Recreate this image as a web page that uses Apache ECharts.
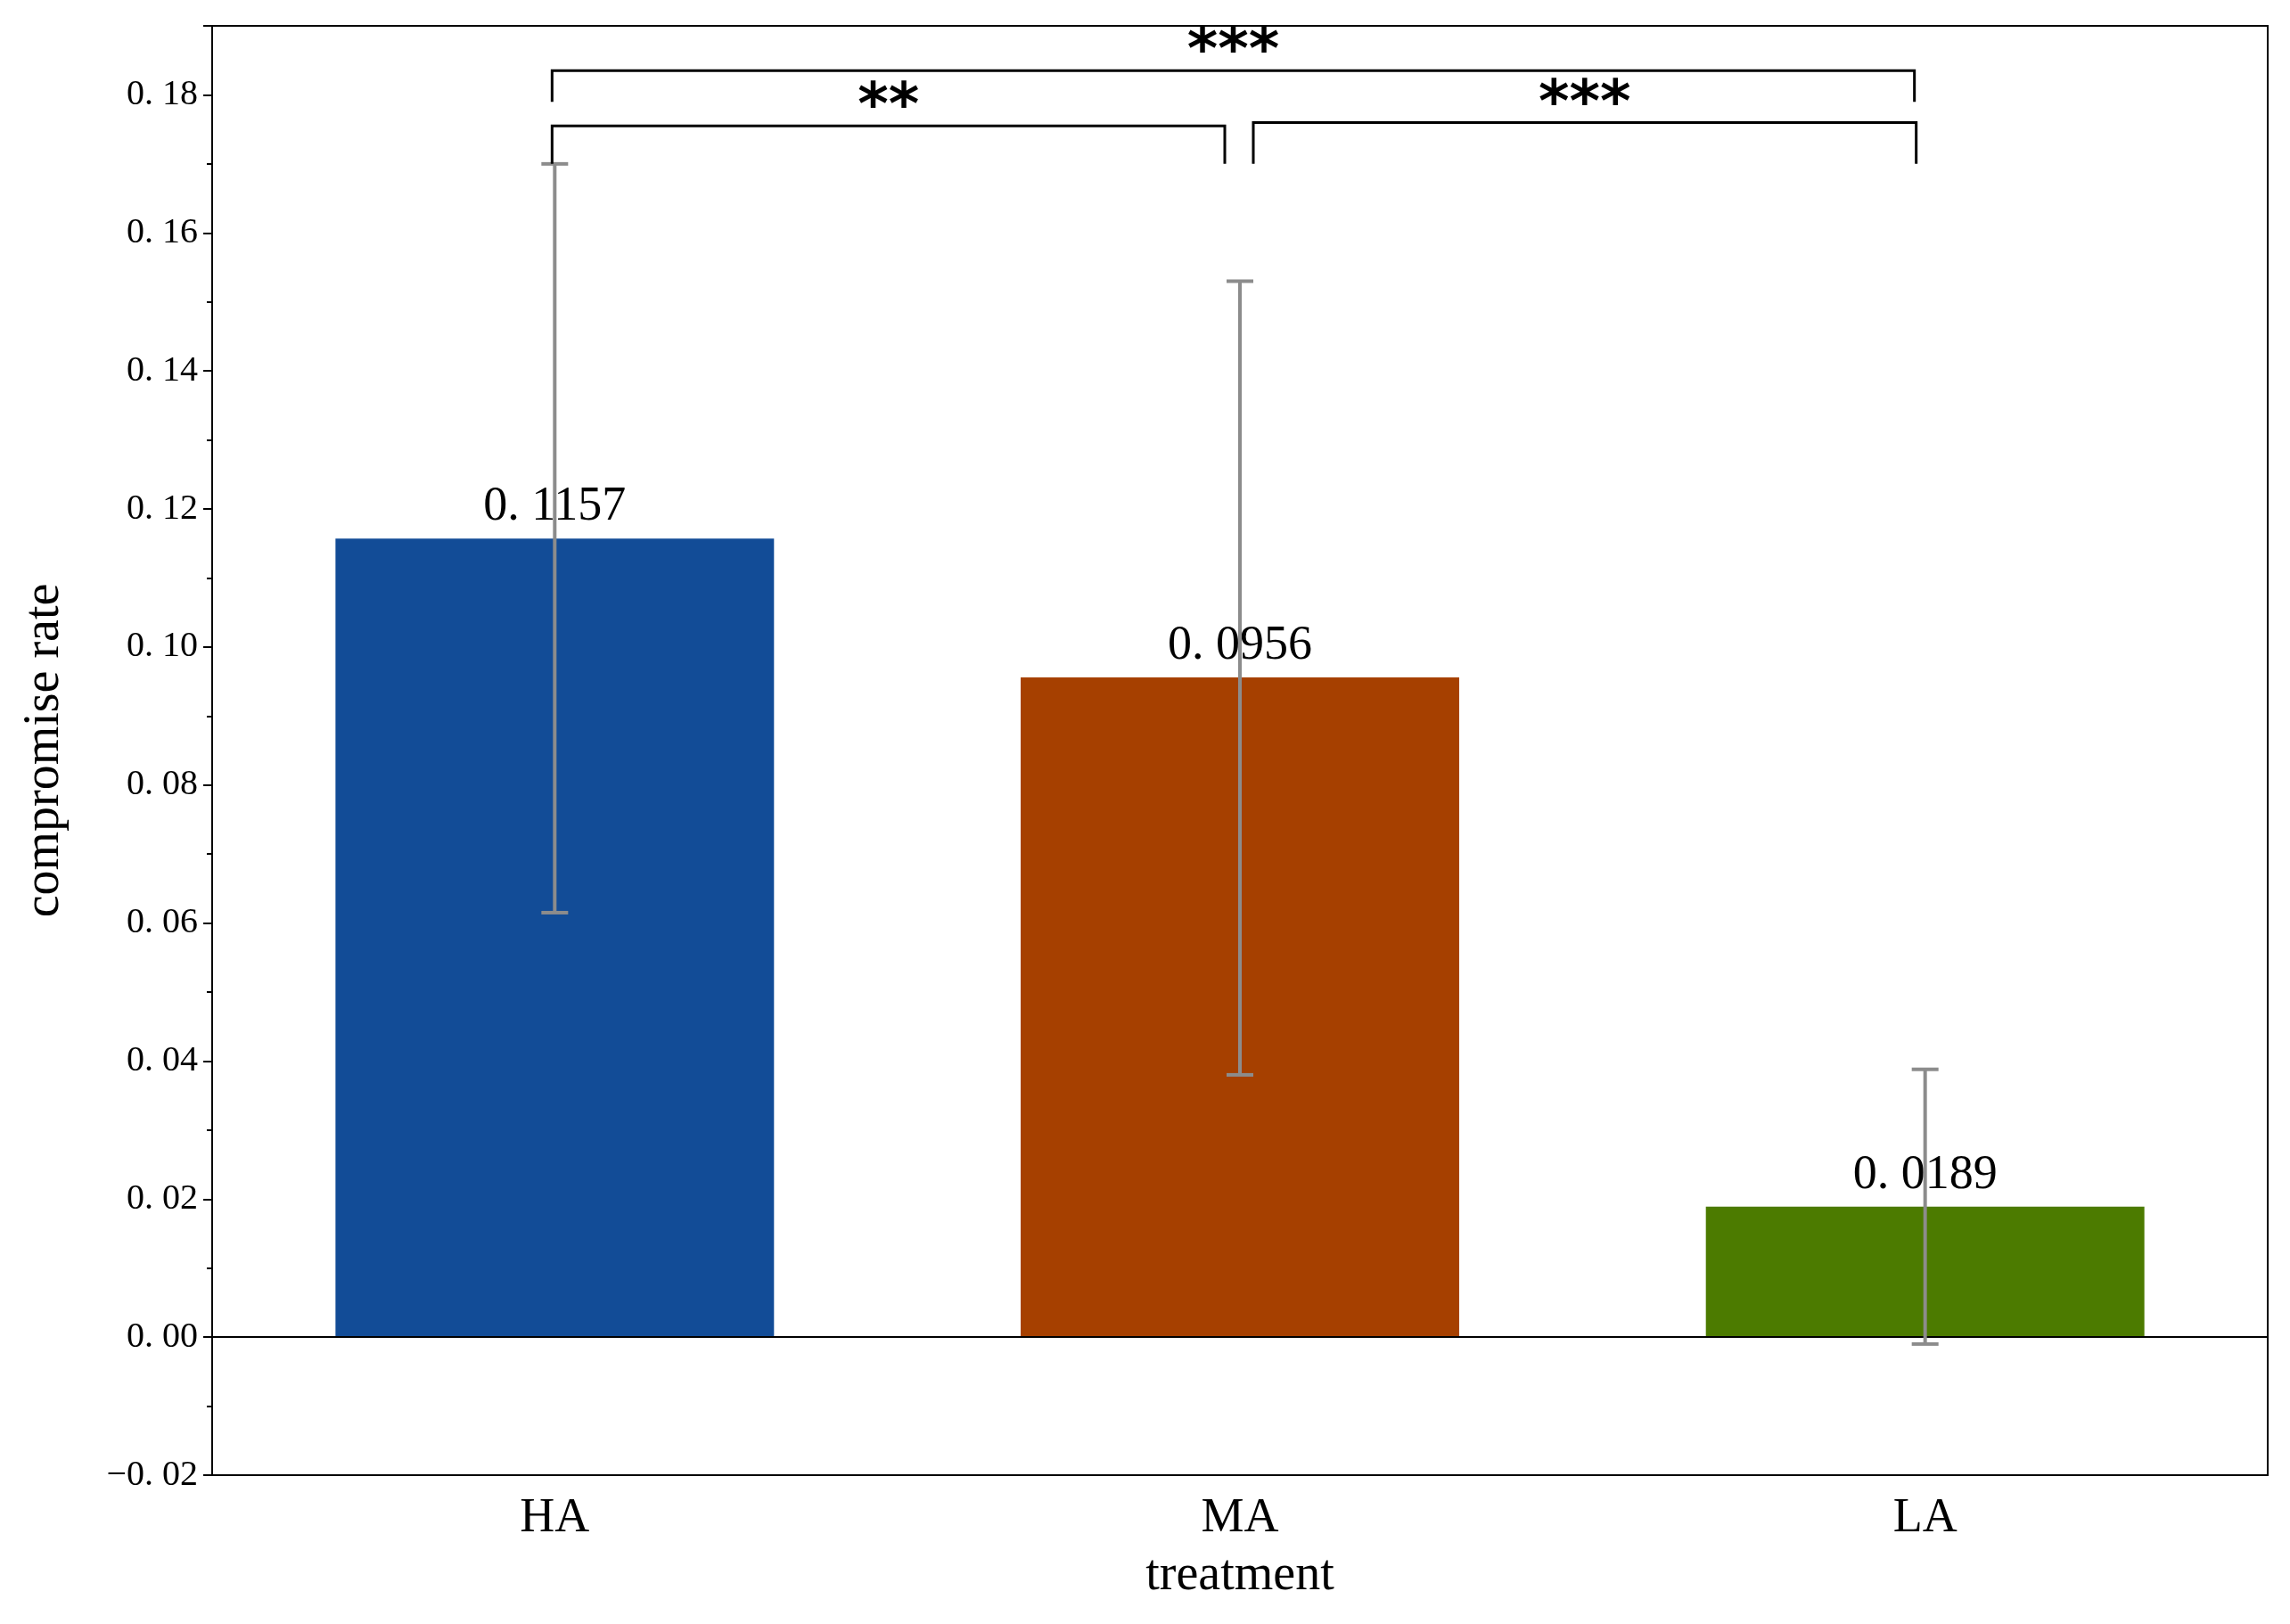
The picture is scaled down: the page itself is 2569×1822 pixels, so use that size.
<!DOCTYPE html>
<html><head><meta charset="utf-8">
<script src="https://cdn.jsdelivr.net/npm/echarts@6/dist/echarts.min.js"></script>
<style>html,body{margin:0;padding:0;background:#fff}#c{width:2569px;height:1822px}</style>
</head><body><div id="c"></div>
<script>
const categories = ['HA','MA','LA'];
const means = [0.1157, 0.0956, 0.0189];
const errLow = [0.0615, 0.038, -0.001];
const errHigh = [0.170, 0.153, 0.0388];
const barColors = ['#124c97','#a64000','#4c7b00'];
const meanLabels = ['0. 1157','0. 0956','0. 0189'];
const yTicks = [-0.02,0,0.02,0.04,0.06,0.08,0.10,0.12,0.14,0.16,0.18];
// brackets: [fromIdx, toIdx, bracketY, legY, stars, fromOffsetPx, toOffsetPx]
const brackets = [
  [0, 2, 0.1835, 0.179, '***', -3, -12],
  [0, 1, 0.1755, 0.170, '**', -3, -17],
  [1, 2, 0.1760, 0.170, '***', 15, -10]
];
const F = 'Liberation Serif';
const chart = echarts.init(document.getElementById('c'));
chart.setOption({
  animation:false,
  grid:{left:238,right:25,top:29,bottom:167,show:true,borderColor:'#000',borderWidth:2},
  xAxis:{type:'category',data:categories,axisTick:{show:false},
    axisLine:{lineStyle:{color:'#000',width:2}},
    axisLabel:{fontFamily:F,fontSize:54,color:'#000',margin:22},
    name:'treatment',nameLocation:'middle',nameGap:85,
    nameTextStyle:{fontFamily:F,fontSize:56,color:'#000'}},
  yAxis:{type:'value',min:-0.02,max:0.19,interval:0.02,
    axisLine:{show:true,lineStyle:{color:'#000',width:2}},
    axisTick:{show:true,length:10,lineStyle:{color:'#000',width:2}},
    minorTick:{show:true,splitNumber:2,length:6,lineStyle:{color:'#000',width:2}},
    splitLine:{show:false},
    axisLabel:{fontFamily:F,fontSize:40,color:'#000',margin:16,
      formatter:v=>{ if(v>0.185) return ''; const s=Math.abs(v).toFixed(2).replace('.', '. '); return (v<-1e-9?'−':'')+s;}},
    name:'compromise rate',nameLocation:'middle',nameGap:160,
    nameTextStyle:{fontFamily:F,fontSize:56,color:'#000'}},
  series:[
    {type:'bar',barWidth:'64%',
      data:means.map((v,i)=>({value:v,itemStyle:{color:barColors[i]}})),
      label:{show:true,position:'top',distance:8,fontFamily:F,fontSize:54,color:'#000',
        formatter:p=>meanLabels[p.dataIndex]},
      markLine:{silent:true,symbol:'none',label:{show:false},
        lineStyle:{color:'#000',width:2,type:'solid'},data:[{yAxis:0}]},
      z:2},
    {type:'custom',z:5,
      data:categories.map((c,i)=>[i,errLow[i],errHigh[i]]),
      renderItem:(params,api)=>{
        const lo=api.coord([api.value(0),api.value(1)]);
        const hi=api.coord([api.value(0),api.value(2)]);
        const x=lo[0], w=15;
        const st={stroke:'#8c8c8c',lineWidth:4};
        return {type:'group',children:[
          {type:'line',shape:{x1:x,y1:lo[1],x2:x,y2:hi[1]},style:st},
          {type:'line',shape:{x1:x-w,y1:lo[1],x2:x+w,y2:lo[1]},style:st},
          {type:'line',shape:{x1:x-w,y1:hi[1],x2:x+w,y2:hi[1]},style:st}]};
      }},
    {type:'custom',z:6,
      data:brackets.map(b=>[b[0],b[1],b[2],b[3]]),
      renderItem:(params,api)=>{
        const b=brackets[params.dataIndex];
        const a=api.coord([b[0],b[2]]), c=api.coord([b[1],b[2]]);
        const leg=api.coord([b[0],b[3]]);
        const x1=a[0]+b[5], x2=c[0]+b[6], y=a[1], yl=leg[1];
        return {type:'group',children:[
          {type:'polyline',shape:{points:[[x1,yl],[x1,y],[x2,y],[x2,yl]]},style:{stroke:'#000',lineWidth:3,fill:null}},
          {type:'text',x:(x1+x2)/2,y:y+14,style:{text:b[4],fontFamily:'DejaVu Sans',fontSize:66,fontWeight:'bold',fill:'#000',align:'center',verticalAlign:'bottom'}}]};
      }}
  ]
});
</script></body></html>
